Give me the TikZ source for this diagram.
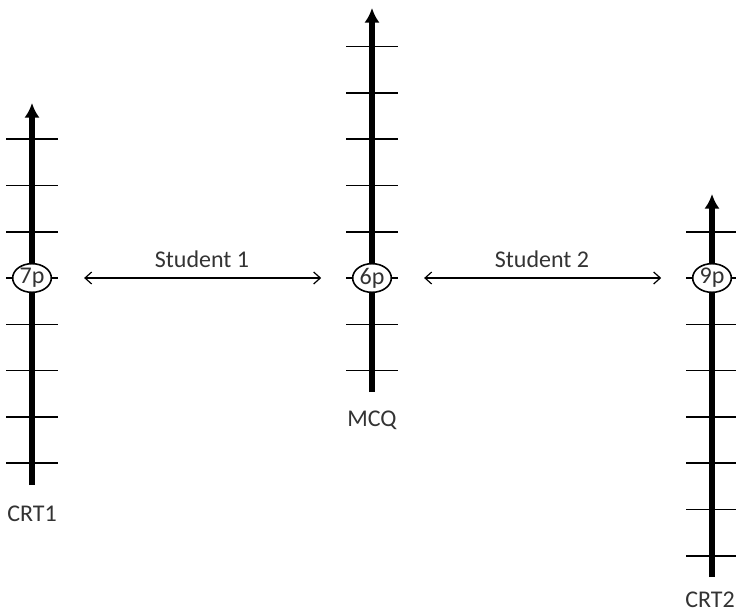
\documentclass[tikz,border=0pt]{standalone}
\usepackage{fontspec}
\setmainfont{Carlito}
\usetikzlibrary{arrows.meta,shapes.geometric}

\begin{document}
\begin{tikzpicture}[x=0.75pt,y=-0.75pt,
    every node/.style={font=\fontsize{18}{21}\selectfont,text=black!80},
    axis/.style={line width=3.8pt,-{Latex[length=11pt,width=11.5pt]}},
    tickmark/.style={line width=1.2pt},
    score/.style={ellipse,draw,fill=white,line width=1.2pt,inner sep=0pt,
      minimum width=29pt,minimum height=21.5pt},
    gap/.style={line width=0.9pt,{Straight Barb[length=5pt,width=9pt]}-{Straight Barb[length=5pt,width=9pt]},
      shorten <=24pt,shorten >=23pt}]
    \useasboundingbox (0,0) rectangle (736,614);
    % CRT1 scale on the left
    \draw[axis] (32,485) -- (32,103);
    \foreach \k in {-3,...,4}
      \draw[tickmark] (6,{278+46.3*\k}) -- (58,{278+46.3*\k});
    \node[score] (p7) at (32,278) {7p};
    \node[anchor=base] (crt1) at (32,521) {CRT1};
    % MCQ scale in the middle
    \draw[axis] (372,392) -- (372,8);
    \foreach \k in {-5,...,2}
      \draw[tickmark] (346,{278+46.3*\k}) -- (398,{278+46.3*\k});
    \node[score] (p6) at (372,278) {6p};
    \node[anchor=base] (mcq) at (372,426) {MCQ};
    % CRT2 scale on the right, cut by the border
    \draw[axis] (712,577) -- (712,194);
    \foreach \k in {-1,...,6}
      \draw[tickmark] (686,{278+46.3*\k}) -- (740,{278+46.3*\k});
    \node[score] (p9) at (712,278) {9p};
    \node[anchor=base] (crt2) at (710,607) {CRT2};
    % students between the scales
    \draw[gap] (p7) -- (p6) node[midway,above=4pt] (s1) {Student 1};
    \draw[gap] (p6) -- (p9) node[midway,above=4pt] (s2) {Student 2};
\end{tikzpicture}
\end{document}
